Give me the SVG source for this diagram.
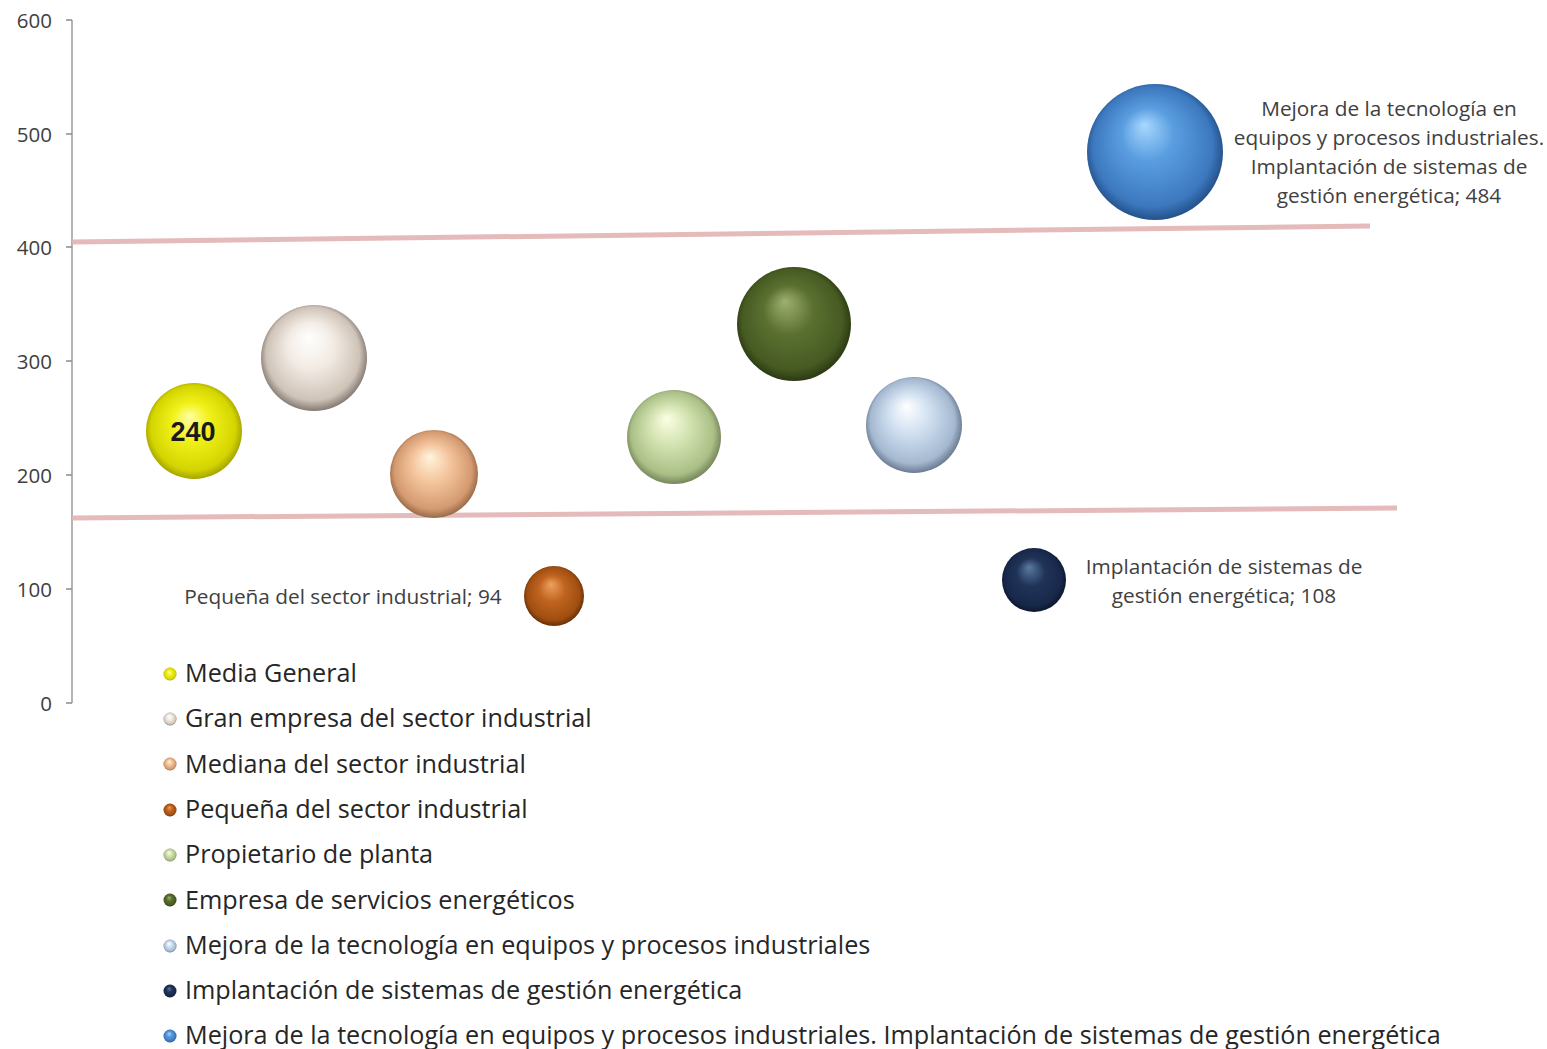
<svg xmlns="http://www.w3.org/2000/svg" width="1547" height="1049" viewBox="0 0 1547 1049">
<style>
.ax{stroke:#8c8c8c;stroke-width:1.3;fill:none}
.tk{font-family:"Open Sans","Liberation Sans",sans-serif;font-size:20.5px;fill:#404040;text-anchor:end}
.dl{font-family:"Open Sans","Liberation Sans",sans-serif;font-size:20.8px;fill:#404040;text-anchor:middle}
.lg{font-family:"Open Sans","Liberation Sans",sans-serif;font-size:25.2px;fill:#262626}
.band{stroke:#e2b3b3;stroke-width:5;stroke-linecap:butt;opacity:0.9}
</style>
<defs>
<radialGradient id="gY" cx="0.5" cy="0.5" r="0.55" fx="0.45" fy="0.35"><stop offset="0" stop-color="#ffffa8"/><stop offset="0.35" stop-color="#f2f21a"/><stop offset="0.8" stop-color="#d4d400"/><stop offset="1" stop-color="#8a8a00"/></radialGradient>
<radialGradient id="gG" cx="0.5" cy="0.5" r="0.55" fx="0.45" fy="0.3"><stop offset="0" stop-color="#ffffff"/><stop offset="0.4" stop-color="#f2ebe4"/><stop offset="0.8" stop-color="#cfc3b8"/><stop offset="1" stop-color="#5e5650"/></radialGradient>
<radialGradient id="gM" cx="0.5" cy="0.5" r="0.55" fx="0.45" fy="0.3"><stop offset="0" stop-color="#fff4dc"/><stop offset="0.4" stop-color="#f4c49c"/><stop offset="0.8" stop-color="#d49a70"/><stop offset="1" stop-color="#7a5236"/></radialGradient>
<radialGradient id="gP" cx="0.5" cy="0.5" r="0.55" fx="0.45" fy="0.3"><stop offset="0" stop-color="#f0a060"/><stop offset="0.4" stop-color="#c06420"/><stop offset="0.8" stop-color="#a04e10"/><stop offset="1" stop-color="#4a2204"/></radialGradient>
<radialGradient id="gPr" cx="0.5" cy="0.5" r="0.55" fx="0.42" fy="0.3"><stop offset="0" stop-color="#fbffe4"/><stop offset="0.4" stop-color="#d2e2b0"/><stop offset="0.8" stop-color="#aabf86"/><stop offset="1" stop-color="#5e6a46"/></radialGradient>
<radialGradient id="gE" cx="0.5" cy="0.5" r="0.55" fx="0.42" fy="0.3"><stop offset="0" stop-color="#9fb070"/><stop offset="0.4" stop-color="#5a7030"/><stop offset="0.8" stop-color="#465a22"/><stop offset="1" stop-color="#1e2a0a"/></radialGradient>
<radialGradient id="gT" cx="0.5" cy="0.5" r="0.55" fx="0.42" fy="0.3"><stop offset="0" stop-color="#ffffff"/><stop offset="0.4" stop-color="#cfdff0"/><stop offset="0.8" stop-color="#a4b8d0"/><stop offset="1" stop-color="#4e5c70"/></radialGradient>
<radialGradient id="gI" cx="0.5" cy="0.5" r="0.55" fx="0.42" fy="0.3"><stop offset="0" stop-color="#5a7aa0"/><stop offset="0.4" stop-color="#203458"/><stop offset="0.8" stop-color="#17284a"/><stop offset="1" stop-color="#070f20"/></radialGradient>
<radialGradient id="gB" cx="0.5" cy="0.5" r="0.55" fx="0.42" fy="0.3"><stop offset="0" stop-color="#a8d8ff"/><stop offset="0.35" stop-color="#5a9ee0"/><stop offset="0.8" stop-color="#3c78be"/><stop offset="1" stop-color="#183e70"/></radialGradient>
</defs>
<rect width="1547" height="1049" fill="#ffffff"/>
<g id="axis">
<line class="ax" x1="72" y1="20" x2="72" y2="703"/>
<path class="ax" d="M66 20H72M66 134H72M66 247H72M66 361H72M66 475H72M66 589H72M66 703H72"/>
<text class="tk" x="52" y="28">600</text>
<text class="tk" x="52" y="142">500</text>
<text class="tk" x="52" y="255">400</text>
<text class="tk" x="52" y="369">300</text>
<text class="tk" x="52" y="483">200</text>
<text class="tk" x="52" y="597">100</text>
<text class="tk" x="52" y="711">0</text>
</g>
<g id="connectors">
<line class="band" x1="72" y1="242" x2="1370" y2="226"/>
<line class="band" x1="72" y1="518" x2="1397" y2="508"/>
</g>
<g id="media-general"><circle cx="194" cy="431" r="48" fill="url(#gY)"/><text x="193" y="441" font-family="'Liberation Sans',Arial,sans-serif" font-size="27" font-weight="bold" fill="#1a1a1a" text-anchor="middle">240</text></g>
<g id="gran-empresa"><circle cx="314" cy="358" r="53" fill="url(#gG)"/></g>
<g id="mediana"><circle cx="434" cy="474" r="44" fill="url(#gM)"/></g>
<g id="pequena"><circle cx="554" cy="596" r="30" fill="url(#gP)"/><text class="dl" x="343" y="604">Pequeña del sector industrial; 94</text></g>
<g id="propietario"><circle cx="674" cy="437" r="47" fill="url(#gPr)"/></g>
<g id="empresa-servicios"><circle cx="794" cy="324" r="57" fill="url(#gE)"/></g>
<g id="mejora-tecnologia"><circle cx="914" cy="425" r="48" fill="url(#gT)"/></g>
<g id="implantacion"><circle cx="1034" cy="580" r="32" fill="url(#gI)"/><text class="dl" x="1224" y="574">Implantación de sistemas de</text><text class="dl" x="1224" y="603">gestión energética; 108</text></g>
<g id="mejora-implantacion"><circle cx="1155" cy="152" r="68" fill="url(#gB)"/>
<text class="dl" x="1389" y="116">Mejora de la tecnología en</text>
<text class="dl" x="1389" y="145">equipos y procesos industriales.</text>
<text class="dl" x="1389" y="174">Implantación de sistemas de</text>
<text class="dl" x="1389" y="203">gestión energética; 484</text></g>
<g id="legend">
<circle cx="170" cy="674" r="6.5" fill="url(#gY)"/><text class="lg" x="185" y="682">Media General</text>
<circle cx="170" cy="719" r="6.5" fill="url(#gG)"/><text class="lg" x="185" y="727">Gran empresa del sector industrial</text>
<circle cx="170" cy="764" r="6.5" fill="url(#gM)"/><text class="lg" x="185" y="773">Mediana del sector industrial</text>
<circle cx="170" cy="810" r="6.5" fill="url(#gP)"/><text class="lg" x="185" y="818">Pequeña del sector industrial</text>
<circle cx="170" cy="855" r="6.5" fill="url(#gPr)"/><text class="lg" x="185" y="863">Propietario de planta</text>
<circle cx="170" cy="900" r="6.5" fill="url(#gE)"/><text class="lg" x="185" y="909">Empresa de servicios energéticos</text>
<circle cx="170" cy="946" r="6.5" fill="url(#gT)"/><text class="lg" x="185" y="954">Mejora de la tecnología en equipos y procesos industriales</text>
<circle cx="170" cy="991" r="6.5" fill="url(#gI)"/><text class="lg" x="185" y="999">Implantación de sistemas de gestión energética</text>
<circle cx="170" cy="1036" r="6.5" fill="url(#gB)"/><text class="lg" x="185" y="1044">Mejora de la tecnología en equipos y procesos industriales. Implantación de sistemas de gestión energética</text>
</g>
</svg>
